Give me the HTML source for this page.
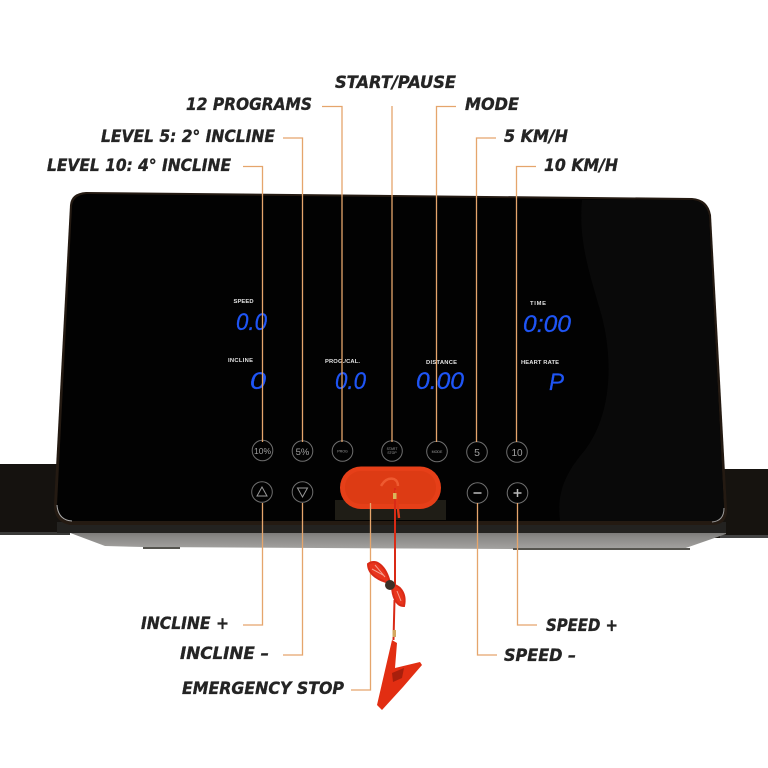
<!DOCTYPE html>
<html><head><meta charset="utf-8"><style>
html,body{margin:0;padding:0;background:#fff}
svg{display:block}
.l{font-family:"DejaVu Sans","Liberation Sans",sans-serif;font-weight:700;font-style:italic;font-size:16.5px;fill:#242424;stroke:#242424;stroke-width:.35}
.s{font-family:"Liberation Sans",sans-serif;font-weight:700;font-size:5.8px;fill:#e2e2e2}
.d{font-family:"Liberation Sans",sans-serif;font-style:italic;font-size:24px;fill:#1f55f5;stroke:#1f55f5;stroke-width:.3}
.b{font-family:"Liberation Sans",sans-serif;fill:#a0a0a0;text-anchor:middle}
</style></head><body>
<svg width="768" height="768" viewBox="0 0 768 768" xmlns="http://www.w3.org/2000/svg">
<defs><linearGradient id="g" x1="0" y1="0" x2="0" y2="1"><stop offset="0" stop-color="#5f5e5c"/><stop offset=".5" stop-color="#8a8987"/><stop offset="1" stop-color="#a5a4a2"/></linearGradient></defs>
<rect width="768" height="768" fill="#fff"/>
<rect x="0" y="464" width="70" height="71" fill="#15120f"/>
<rect x="0" y="532" width="70" height="3" fill="#3a3a38"/>
<rect x="700" y="469" width="68" height="69" fill="#16130f"/>
<rect x="720" y="535" width="48" height="3" fill="#444"/>
<path d="M57 528 L105 546 L143 547 L680 550 L726 534 L726 524 L57 524Z" fill="url(#g)"/>
<path d="M57 533 L726 533 L726 522 L57 522Z" fill="#232220"/>
<path d="M143 547H180V549H143ZM513 548H690V550H513Z" fill="#55544f"/>
<path d="M86 192 L692 198 Q708 199 711 215 L727 510 Q727 524 714 525 L70 525 Q54 522 54 505 L70 205 Q71 193 86 192Z" fill="#241a12"/>
<path d="M87 194 L692 200 Q706 201 709 216 L724 508 Q724 521 712 521 L72 521 Q58 520 57 505 L72 206 Q73 195 87 194Z" fill="#020202"/>
<path d="M582 200 L692 200 Q706 201 709 216 L724 508 Q724 521 712 521 L560 521 C556 490 568 470 585 450 C615 410 612 350 600 310 C590 275 578 240 582 200Z" fill="#090909"/>
<path d="M57 505 Q58 520 72 521" fill="none" stroke="#aaa" stroke-width="1"/>
<path d="M724 508 Q724 521 712 522" fill="none" stroke="#999" stroke-width="1"/>

<text class="s" x="233.5" y="303" textLength="20">SPEED</text>
<text class="s" x="228" y="362" textLength="25">INCLINE</text>
<text class="s" x="325" y="363" textLength="35">PROG./CAL.</text>
<text class="s" x="426" y="364" textLength="31">DISTANCE</text>
<text class="s" x="530" y="305" textLength="16">TIME</text>
<text class="s" x="521" y="364" textLength="38">HEART RATE</text>
<text class="d" x="236" y="330" textLength="31" lengthAdjust="spacingAndGlyphs">0.0</text>
<text class="d" x="250" y="389" textLength="16" lengthAdjust="spacingAndGlyphs">0</text>
<text class="d" x="335" y="389" textLength="31" lengthAdjust="spacingAndGlyphs">0.0</text>
<text class="d" x="416" y="389" textLength="48" lengthAdjust="spacingAndGlyphs">0.00</text>
<text class="d" x="523" y="332" textLength="48" lengthAdjust="spacingAndGlyphs">0:00</text>
<text class="d" x="549" y="390" textLength="15" lengthAdjust="spacingAndGlyphs">P</text>

<path d="M335 500H446V520H335Z" fill="#1f1d16"/>
<rect x="340" y="466.5" width="101" height="42.5" rx="21" fill="#e63f18"/>
<rect x="345" y="471" width="91" height="33" rx="16" fill="#dd3b14"/>

<g fill="none" stroke="#6f6f6f" stroke-width="1">
<circle cx="262.5" cy="450.5" r="10.3"/><circle cx="302.5" cy="451" r="10.3"/><circle cx="342.5" cy="451" r="10.3"/>
<circle cx="392" cy="451" r="10.3"/><circle cx="437" cy="451.5" r="10.3"/><circle cx="477" cy="452" r="10.3"/><circle cx="517" cy="452" r="10.3"/>
<circle cx="262" cy="492" r="10.3"/><circle cx="302.5" cy="492" r="10.3"/><circle cx="477.5" cy="493" r="10.3"/><circle cx="517.5" cy="493" r="10.3"/>
<path d="M257 496H267L262 487Z" stroke="#999"/><path d="M297.5 488H307.5L302.5 497Z" stroke="#999"/>
<path d="M473.5 493H481.5M513.5 493H521.5M517.5 489V497" stroke="#bbb" stroke-width="1.5"/>
</g>
<text class="b" x="262.5" y="454" font-size="8.5">10%</text>
<text class="b" x="302.5" y="455" font-size="9.5">5%</text>
<text class="b" x="342.5" y="452.5" font-size="3.6">PROG</text>
<text class="b" x="392" y="450" font-size="3.4">START</text>
<text class="b" x="392" y="454" font-size="3.4">STOP</text>
<text class="b" x="437" y="453" font-size="3.6">MODE</text>
<text class="b" x="477" y="456" font-size="10.5">5</text>
<text class="b" x="517" y="456" font-size="10">10</text>

<g fill="none" stroke="#e5a56c" stroke-width="1.3">
<path d="M243 166.5H262.5V442"/><path d="M283 138H302.5V442"/><path d="M322 106.5H342V442"/>
<path d="M392 106V442"/><path d="M456 106.5H436.5V442"/><path d="M496 138H476.5V442"/><path d="M536 166.5H516.5V442"/>
<path d="M262.5 503V625H243"/><path d="M302.5 503V655H283"/><path d="M370.5 503V690H351"/>
<path d="M477.5 503V655H497"/><path d="M517.5 503V625H537"/>
</g>

<g fill="none" stroke="#d92a16">
<path d="M395 488 V586 M394.5 600 L393.5 640" stroke-width="2"/>
<path d="M396 490 L399 518" stroke="#e23a18" stroke-width="2.4"/>
<path d="M381 486 Q386 477 394 479 Q398 481 398 486" stroke="#ee5a30" stroke-width="2.4"/>
<path d="M390 583 C380 581 368 575 368 564 C376 558 386 566 390 583Z" fill="#e8341c" stroke-width="2"/>
<path d="M372 569 L383 575 M375 565 L385 577" stroke="#f5a090" stroke-width="1"/>
<path d="M392 585 C398 584 407 592 404 606 C396 606 392 596 392 585Z" fill="#e8341c" stroke-width="2"/>
<path d="M397 591 L401 601" stroke="#f5a090" stroke-width="1"/>
</g>
<rect x="393" y="493" width="3.5" height="6" fill="#d9b75a"/>
<circle cx="390" cy="585" r="5" fill="#3b2f26"/>
<rect x="392.5" y="630" width="3.5" height="7" fill="#d4a860"/>
<path d="M392 640 L397 643 L395 668 L420 662 L422 665 L403 687 L382 710 L377 705Z" fill="#e22e12"/>
<path d="M392 673 L404 668 L402 678 L393 682Z" fill="#a81f0c"/>

<text class="l" x="335" y="88" textLength="121" lengthAdjust="spacingAndGlyphs">START/PAUSE</text>
<text class="l" x="186" y="110" textLength="126" lengthAdjust="spacingAndGlyphs">12 PROGRAMS</text>
<text class="l" x="465" y="110" textLength="54" lengthAdjust="spacingAndGlyphs">MODE</text>
<text class="l" x="101" y="142" textLength="174" lengthAdjust="spacingAndGlyphs">LEVEL 5: 2° INCLINE</text>
<text class="l" x="504" y="142" textLength="64" lengthAdjust="spacingAndGlyphs">5 KM/H</text>
<text class="l" x="47" y="171" textLength="184" lengthAdjust="spacingAndGlyphs">LEVEL 10: 4° INCLINE</text>
<text class="l" x="544" y="171" textLength="74" lengthAdjust="spacingAndGlyphs">10 KM/H</text>
<text class="l" x="141" y="629" textLength="88" lengthAdjust="spacingAndGlyphs">INCLINE +</text>
<text class="l" x="180" y="659" textLength="89" lengthAdjust="spacingAndGlyphs">INCLINE –</text>
<text class="l" x="182" y="694" textLength="162" lengthAdjust="spacingAndGlyphs">EMERGENCY STOP</text>
<text class="l" x="546" y="631" textLength="72" lengthAdjust="spacingAndGlyphs">SPEED +</text>
<text class="l" x="504" y="661" textLength="72" lengthAdjust="spacingAndGlyphs">SPEED –</text>
</svg>
</body></html>
